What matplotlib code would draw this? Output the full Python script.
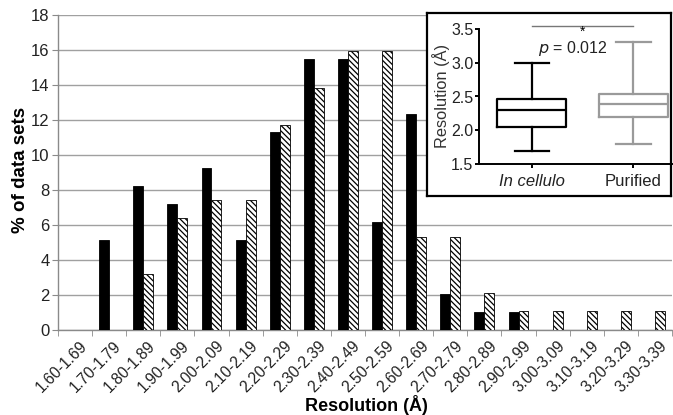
import matplotlib
matplotlib.use("Agg")
import matplotlib.pyplot as plt
import numpy as np

plt.rcParams['font.family'] = ['Liberation Sans', 'DejaVu Sans']
plt.rcParams['hatch.linewidth'] = 0.9

categories = ["1.60-1.69", "1.70-1.79", "1.80-1.89", "1.90-1.99", "2.00-2.09", "2.10-2.19",
              "2.20-2.29", "2.30-2.39", "2.40-2.49", "2.50-2.59", "2.60-2.69", "2.70-2.79",
              "2.80-2.89", "2.90-2.99", "3.00-3.09", "3.10-3.19", "3.20-3.29", "3.30-3.39"]
in_cellulo = [0, 5.15, 8.25, 7.22, 9.28, 5.15, 11.34, 15.46, 15.46, 6.19, 12.37, 2.06,
              1.03, 1.03, 0, 0, 0, 0]
purified = [0, 0, 3.19, 6.38, 7.45, 7.45, 11.70, 13.83, 15.96, 15.96, 5.32, 5.32,
            2.13, 1.06, 1.06, 1.06, 1.06, 1.06]
y_ticks = [0, 2, 4, 6, 8, 10, 12, 14, 16, 18]

# inset box-plot statistics (Å)
box_labels = ["In cellulo", "Purified"]
box_whislo = [1.70, 1.80]
box_q1 = [2.05, 2.19]
box_med = [2.30, 2.39]
box_q3 = [2.47, 2.53]
box_whishi = [3.00, 3.30]
inset_ticks = [1.5, 2.0, 2.5, 3.0, 3.5]

W, H = 673, 415
fig = plt.figure(figsize=(W / 100, H / 100), dpi=100)

def fr(x0, y0, x1, y1):
    return [x0 / W, 1 - y1 / H, (x1 - x0) / W, (y1 - y0) / H]

ax = fig.add_axes(fr(58, 15, 672, 330))
x = np.arange(len(categories))
bw = 0.29
ax.bar(x - bw / 2, in_cellulo, bw, color='black', edgecolor='black', linewidth=0.6, zorder=3)
ax.bar(x + bw / 2, purified, bw, color='white', edgecolor='black', linewidth=0.6,
       hatch='\\' * 6, zorder=3)
ax.set_xlim(-0.5, len(categories) - 0.5)
ax.set_ylim(0, 18)
ax.set_yticks(y_ticks)
ax.grid(axis='y', color='#a0a0a0', linewidth=1.0, zorder=0)
for s in ['top', 'right']:
    ax.spines[s].set_visible(False)
for s in ['left', 'bottom']:
    ax.spines[s].set_color('#8a8a8a')
    ax.spines[s].set_linewidth(1.0)
ax.tick_params(axis='y', labelsize=12, length=4, color='#8a8a8a', pad=2, labelcolor='#222222')
ax.set_xticks(x + 0.13)
ax.set_xticklabels(categories, rotation=45, ha='right', rotation_mode='anchor',
                   fontsize=11.2, color='#222222')
ax.tick_params(axis='x', length=0, pad=6)
ax.set_xticks(np.arange(-0.5, len(categories), 1), minor=True)
ax.tick_params(axis='x', which='minor', length=4, color='#8a8a8a')
ax.set_ylabel('% of data sets', fontsize=13.5, fontweight='bold')
ax.yaxis.label.set_va('center')
ax.yaxis.set_label_coords((21 - 58) / 614, (330 - 170) / 315)
ax.set_xlabel('Resolution (Å)', fontsize=13, fontweight='bold')
ax.xaxis.label.set_va('center')
ax.xaxis.set_label_coords((366 - 58) / 614, (330 - 405) / 315)

# inset frame
frame = fig.add_axes(fr(427, 13, 671, 196))
frame.set_xticks([])
frame.set_yticks([])
frame.set_facecolor('white')
for s in frame.spines.values():
    s.set_linewidth(1.6)
    s.set_color('black')
frame.set_zorder(5)

iax = fig.add_axes(fr(479, 29, 672, 164))
iax.set_zorder(6)
iax.patch.set_alpha(0)
stats = []
for i in range(len(box_labels)):
    stats.append(dict(label=box_labels[i], whislo=box_whislo[i], q1=box_q1[i], med=box_med[i],
                      q3=box_q3[i], whishi=box_whishi[i], fliers=[]))
colors = ['black', '#9a9a9a']
for i, st in enumerate(stats):
    c = colors[i]
    lp = dict(color=c, linewidth=1.6)
    iax.bxp([st], positions=[i], widths=0.68, showfliers=False,
            boxprops=lp, whiskerprops=lp, capprops=lp, medianprops=lp, capwidths=0.34)
iax.set_xlim(-0.52, 1.38)
iax.set_ylim(1.5, 3.5)
iax.set_yticks(inset_ticks)
iax.set_yticklabels([f"{t:.1f}" for t in inset_ticks])
iax.set_xticks([0, 1])
iax.set_xticklabels(box_labels)
iax.get_xticklabels()[0].set_style('italic')
iax.tick_params(axis='y', labelsize=11.5, length=3, width=1.4, pad=1, labelcolor='#222222')
iax.tick_params(axis='x', labelsize=12, length=3, width=1.4, pad=4, labelcolor='#222222')
for s in ['top', 'right']:
    iax.spines[s].set_visible(False)
for s in ['left', 'bottom']:
    iax.spines[s].set_linewidth(1.4)
iax.set_ylabel('Resolution (Å)', fontsize=11.8, color='#333333', labelpad=1)
iax.plot([0, 1], [3.54, 3.54], color='#777777', linewidth=1.0, clip_on=False)
iax.text(0.5, 3.46, '*', ha='center', va='center', fontsize=10)
iax.text(0.4, 3.21, r'$p$ = 0.012', ha='center', va='center', fontsize=11.5, color='#222222',
         math_fontfamily='dejavusans')

fig.savefig('out.png', dpi=100)
